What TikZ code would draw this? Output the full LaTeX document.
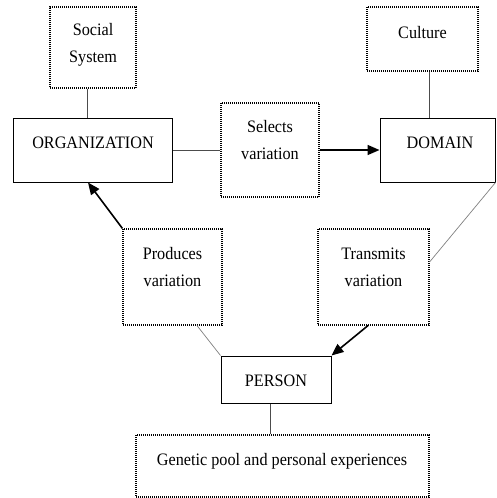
\documentclass[tikz,border=0pt]{standalone}
\usepackage{fontspec}
\setmainfont{Liberation Serif}
\usetikzlibrary{arrows.meta,calc}
\begin{document}
\begin{tikzpicture}[x=1pt,y=-1pt,
  solidbox/.style={draw=black,line width=1pt,inner sep=0pt,fill=white},
  dotbox/.style={draw=black,line width=1.1pt,dash pattern=on 1pt off 1pt,inner sep=0pt,fill=white},
  txt/.style={font=\fontsize{16.2}{25}\selectfont,align=center,inner sep=0pt,yscale=1.08},
  link/.style={draw=black!70,line width=0.8pt},
  faint/.style={draw=black!50,line width=0.7pt},
  arr/.style={draw=black,line width=1.6pt,-{Triangle[length=12pt,width=10pt]}}]
\useasboundingbox (0,0) rectangle (496,498);
% boxes
\node[dotbox,minimum width=86pt,minimum height=81pt] (soc) at (93,47.5) {};
\node[solidbox,minimum width=159pt,minimum height=64pt] (org) at (92.5,150) {};
\node[dotbox,minimum width=98pt,minimum height=94pt] (sel) at (270,150) {};
\node[solidbox,minimum width=115pt,minimum height=64pt] (dom) at (437.5,150) {};
\node[dotbox,minimum width=111pt,minimum height=64pt] (cul) at (422.5,39) {};
\node[dotbox,minimum width=99pt,minimum height=96pt] (prod) at (172.5,277) {};
\node[dotbox,minimum width=111pt,minimum height=96pt] (trans) at (373.5,277) {};
\node[solidbox,minimum width=110pt,minimum height=47pt] (pers) at (276,379.5) {};
\node[dotbox,minimum width=293pt,minimum height=62pt] (gen) at (282.5,466) {};
% texts
\node[txt] (tsoc) at (93,45) {Social\\System};
\node[txt] (torg) at (93,143) {ORGANIZATION};
\node[txt] (tsel) at (270,140) {Selects\\variation};
\node[txt] (tdom) at (440,143) {DOMAIN};
\node[txt] (tcul) at (422.5,33) {Culture};
\node[txt] (tprod) at (172.5,267) {Produces\\variation};
\node[txt] (ttrans) at (373.5,267) {Transmits\\variation};
\node[txt] (tpers) at (276,381) {PERSON};
\node[txt] (tgen) at (282,461) {Genetic pool and personal experiences};
% connectors
\draw[link] (soc.south -| 87,0) -- (org.north -| 87,0);
\draw[link] (cul.south -| 429,0) -- (dom.north -| 429,0);
\draw[link] (org.east) -- (sel.west);
\draw[arr] (sel.east) -- (dom.west);
\draw[arr] (prod.north west) -- (org.south -| 88,0);
\draw[faint] (dom.south east) -- (trans.east |- 0,262);
\draw[faint] (prod.south -| 197,0) -- (pers.north west);
\draw[arr] (trans.south -| 368,0) -- (pers.north east);
\draw[link] (pers.south -| 270,0) -- (gen.north -| 270,0);
\end{tikzpicture}
\end{document}
